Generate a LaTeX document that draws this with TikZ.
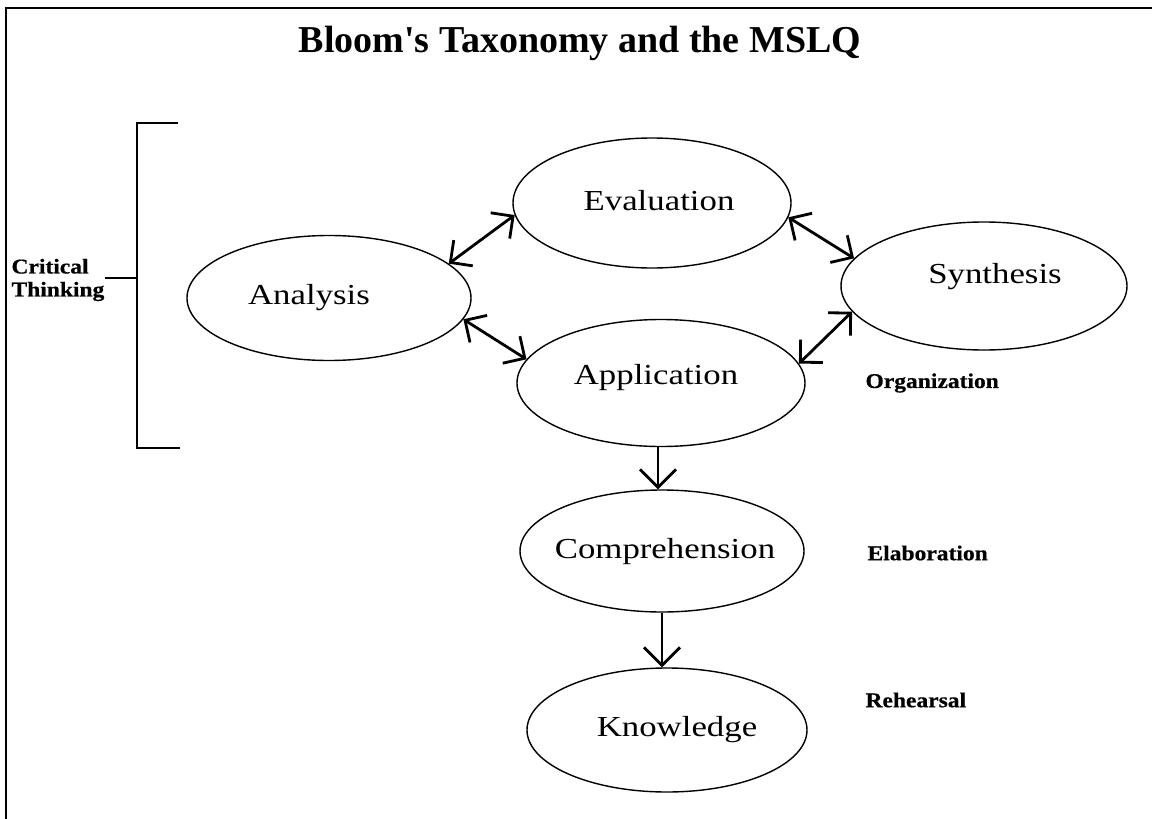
\documentclass[tikz,border=0pt]{standalone}
\usepackage{fontspec}
\setmainfont{Liberation Serif}
\newfontfamily\widefont[FakeStretch=1.2]{Liberation Serif}
\newfontfamily\widebold[FakeStretch=1.12,FakeBold=0.6]{Liberation Serif Bold}
\usetikzlibrary{shapes.geometric,arrows.meta}
\begin{document}
\begin{tikzpicture}[x=1pt,y=-1pt,
  oval/.style={draw,ellipse,line width=1.4pt,inner sep=0pt},
  otext/.style={font=\widefont\fontsize{29}{32}\selectfont},
  side/.style={font=\widebold\fontsize{21}{25}\selectfont,anchor=west,align=left},
  link/.style={line width=2.8pt,{Straight Barb[length=16pt,width=32pt]}-{Straight Barb[length=16pt,width=32pt]}},
  down/.style={line width=2.8pt,-{Straight Barb[length=18pt,width=36pt]}}]
\useasboundingbox (0,0) rectangle (1152,819);
\draw[line width=2.2pt] (6,819) coordinate (bl) -- (6,8) coordinate (tl) -- (1152,8) coordinate (tr);
\node[font=\bfseries\fontsize{38}{44}\selectfont] (title) at (580,43) {Bloom\textquotesingle s Taxonomy and the MSLQ};
% ellipses
\node[oval,minimum width=278pt,minimum height=130pt] (eva) at (652,203) {};
\node[oval,minimum width=284pt,minimum height=125pt] (ana) at (329,298) {};
\node[oval,minimum width=286pt,minimum height=128pt] (syn) at (984,286) {};
\node[oval,minimum width=288pt,minimum height=127pt] (app) at (661,383) {};
\node[oval,minimum width=284pt,minimum height=122pt] (com) at (662,551) {};
\node[oval,minimum width=280pt,minimum height=124pt] (kno) at (667,730) {};
% texts
\node[otext] (teva) at (659,201) {Evaluation};
\node[otext] (tana) at (309,298) {Analysis};
\node[otext] (tsyn) at (995,277) {Synthesis};
\node[otext] (tapp) at (656,378) {Application};
\node[otext] (tcom) at (665,552) {Comprehension};
\node[otext] (tkno) at (677,730) {Knowledge};
% connectors
\draw[link] (ana.16) -- (eva.185);
\draw[link] (ana.-9) -- (app.170);
\draw[link] (eva.-6) -- (syn.168);
\draw[link] (app.8) -- (syn.191);
\draw[down] (app.south) ++(-3,0) coordinate (a1) -- (a1 |- com.north);
\draw[down] (com.south) -- (com.south |- kno.north);
% bracket
\coordinate (bt) at (178,123);
\coordinate (bb) at (180,448);
\coordinate (bm) at (137,278);
\draw[line width=1.3pt] (bt) -- (137,123) -- (137,448) -- (bb);
\draw[line width=1.3pt] (bm) -- (105,278) coordinate (bmt);
% side labels
\node[side] (crit) at (8,280) {Critical\\[-2pt]Thinking};
\node[side] (org) at (862,383) {Organization};
\node[side] (ela) at (864,553) {Elaboration};
\node[side] (reh) at (862,700) {Rehearsal};
\end{tikzpicture}
\end{document}
